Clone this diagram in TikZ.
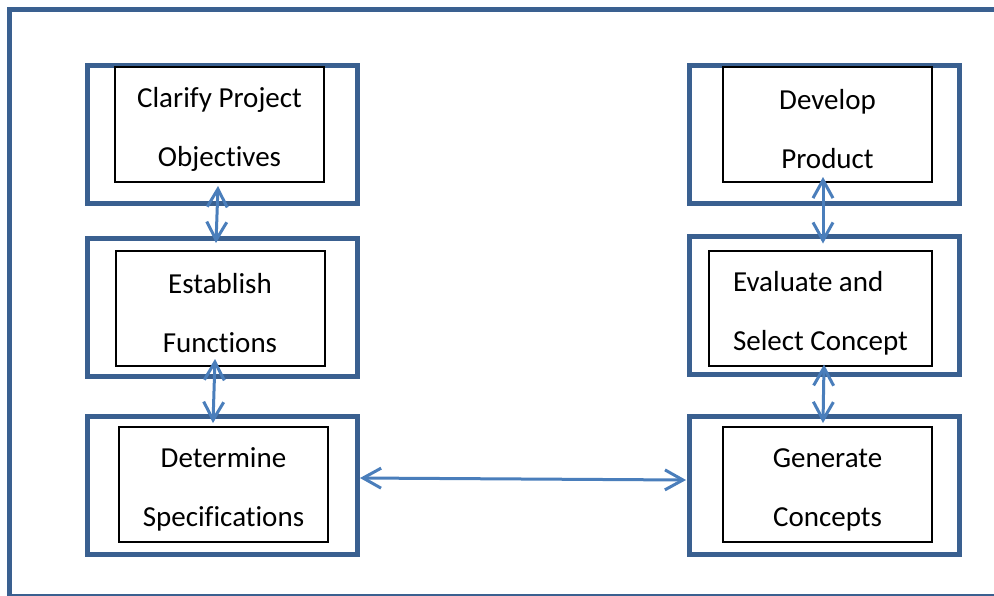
\documentclass[tikz,border=0pt]{standalone}
\usepackage{fontspec}
\setmainfont{Carlito}[Ligatures=NoCommon]
\usepackage{tikz}
\usetikzlibrary{arrows.meta,calc}

\definecolor{framebl}{RGB}{58,96,144}
\definecolor{arrowbl}{RGB}{74,126,187}
\newcommand{\topgap}{\rule{0pt}{15pt}}

\begin{document}
\begin{tikzpicture}[x=0.5pt, y=-0.5pt,
    frame/.style={draw=framebl, line width=2.5pt, minimum width=135pt, minimum height=69pt, inner sep=0pt, outer sep=0pt},
    stage/.style={draw=black, line width=1pt, minimum width=104.5pt, minimum height=57.5pt, inner sep=0pt, outer sep=0pt,
        align=center, font=\fontsize{14.5}{29.5}\selectfont},
    link/.style={draw=arrowbl, line width=1.5pt, {Straight Barb[length=9pt,width=10pt]}-{Straight Barb[length=9pt,width=10pt]}}]
    \useasboundingbox (0,0) rectangle (994,595);

    % draw outside border
    \draw[framebl, line width=2.5pt] (9.5,9.5) rectangle (1010,596);

    % draw outer boxes
    \node[frame] (clarifyframe)   at (222,134) {};
    \node[frame] (establishframe) at (222,307) {};
    \node[frame] (determineframe) at (222,485) {};
    \node[frame] (developframe)   at (824,134) {};
    \node[frame] (evaluateframe)  at (824,305) {};
    \node[frame] (generateframe)  at (824,485) {};

    % draw nodes
    \node[stage] (clarify)   at (219.5,124.5) {\topgap Clarify Project\\Objectives};
    \node[stage] (establish) at (220,308.5)   {\topgap Establish\\Functions};
    \node[stage] (determine) at (223.5,484.5) {\topgap Determine\\Specifications};
    \node[stage] (develop)   at (827.5,124.5) {\topgap Develop\\Product};
    \node[stage, minimum width=111.5pt, align=left] (evaluate) at (820.5,308) {\topgap Evaluate and\\Select Concept};
    \node[stage] (generate)  at (827.5,484.5) {\topgap Generate\\Concepts};

    % draw arrows
    \draw[link] ($(clarify.south)+(-1.5,4)$) -- ($(establish.north)+(-4,-8)$);
    \draw[link] ($(establish.south)+(-5,-7)$) -- ($(determine.north)+(-10.5,-4)$);
    \draw[link] ($(determineframe.east)+(3,-7)$) -- ($(generateframe.west)+(-3,-5)$);
    \draw[link] ($(develop.south)+(-4.5,-5)$) -- ($(evaluate.north)+(2.5,-7)$);
    \draw[link] ($(evaluate.south)+(3.5,-1)$) -- ($(generate.north)+(-4.5,-4)$);
\end{tikzpicture}
\end{document}
